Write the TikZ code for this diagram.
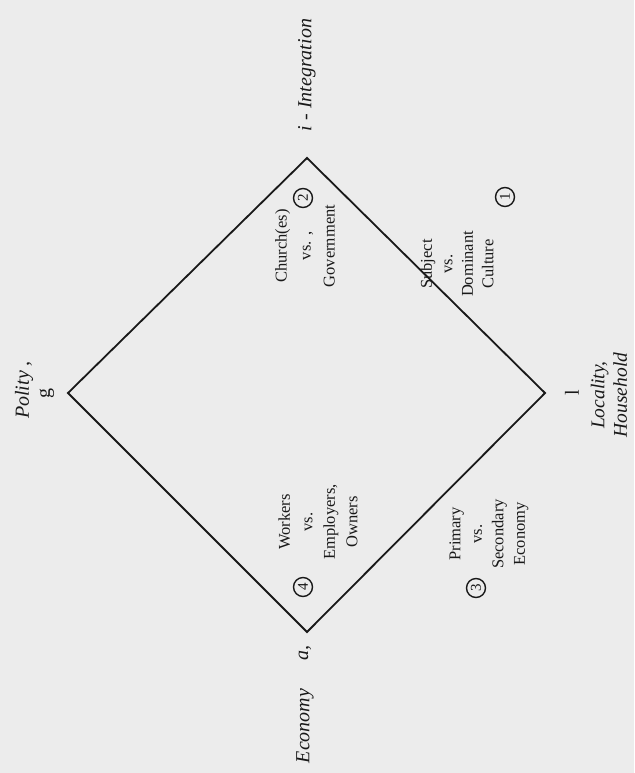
\documentclass[tikz,border=0pt]{standalone}
\usepackage{fontspec}
\setmainfont{Liberation Serif}
\definecolor{paper}{RGB}{236,236,236}
\definecolor{ink}{RGB}{25,25,25}
\begin{document}
\begin{tikzpicture}[x=1pt,y=-1pt,
  lab/.style={rotate=90, align=center, text=ink, inner sep=0pt, font=\fontsize{16.5}{23}\selectfont},
  ital/.style={rotate=90, align=center, text=ink, inner sep=0pt, font=\fontsize{20}{24}\selectfont\itshape},
  numc/.style={rotate=90, circle, draw=ink, line width=1.4pt, minimum size=19pt, inner sep=0pt, text=ink, font=\fontsize{15}{15}\selectfont},
  edge/.style={draw=ink, line width=1.8pt, line join=miter}]
\fill[paper] (0,0) rectangle (634,773);
\useasboundingbox (0,0) rectangle (634,773);
% vertices
\coordinate (I) at (307,158);
\coordinate (G) at (68,393);
\coordinate (A) at (307,632);
\coordinate (L) at (545,393);
\draw[edge] (I) -- (L) -- (A) -- (G) -- cycle;
% corner labels
\node[ital] (itxt) at (307,75) {i - Integration};
\node[ital] (pol) at (24,390) {Polity ,};
\node[ital, font=\fontsize{20}{24}\selectfont\upshape] (g) at (47,393) {g};
\node[ital, font=\fontsize{20}{24}\selectfont\upshape] (l) at (572,393) {l};
\node[ital, font=\fontsize{19.5}{22.5}\selectfont\itshape] (loc) at (609,395) {Locality,\\Household};
\node[ital] (a) at (305,653) {a,};
\node[ital] (eco) at (305,726) {Economy};
% quadrant texts
\node[lab, font=\fontsize{16.5}{24}\selectfont] (ch) at (305,246) {Church(es)\\vs. ,\\Government};
\node[numc] (n2) at (303,198) {2};
\node[lab, font=\fontsize{16.5}{20.5}\selectfont] (su) at (457,264) {Subject\\vs.\\Dominant\\Culture};
\node[numc] (n1) at (505,197) {1};
\node[lab, font=\fontsize{16.5}{22.5}\selectfont] (wo) at (318,522) {Workers\\vs.\\Employers,\\Owners};
\node[numc] (n4) at (303,587) {4};
\node[lab, font=\fontsize{16.5}{21.5}\selectfont] (pr) at (489,534) {Primary\\vs.\\Secondary\\Economy};
\node[numc] (n3) at (476,588) {3};
\end{tikzpicture}
\end{document}
